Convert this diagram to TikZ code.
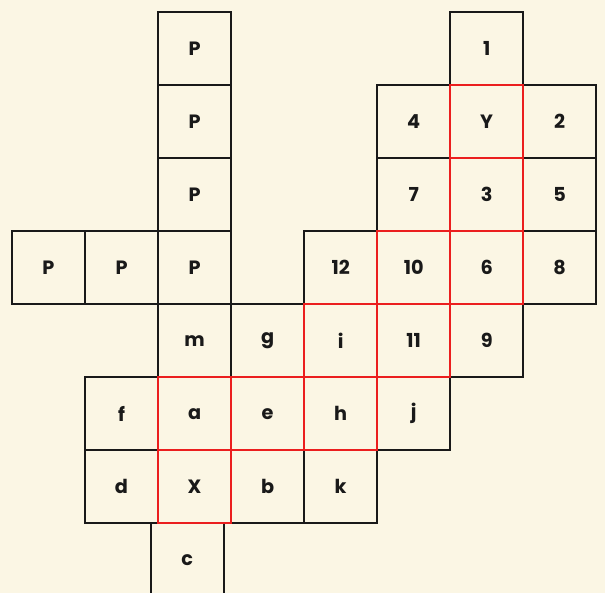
\documentclass[tikz,border=0pt]{standalone}
\usepackage{fontspec}
\setmainfont{Poppins}
\usepackage{tikz}
\definecolor{paperc}{RGB}{251,246,228}
\definecolor{inkc}{RGB}{25,25,25}
\definecolor{pathc}{RGB}{235,30,30}
\tikzset{
  cell/.style={rectangle,draw=inkc,line width=1.7pt,minimum size=2cm,inner sep=0pt,font=\fontsize{15}{17}\selectfont\bfseries,text=inkc},
  route/.style={cell,draw=pathc,line width=1.6pt},
}
\begin{document}
\begin{tikzpicture}[x=2cm,y=2cm]
  % paper and frame
  \fill[paperc] (-0.664,0.664) rectangle (7.62,-7.45);
  \useasboundingbox (-0.664,0.664) rectangle (7.62,-7.45);
  % plain cells
  \foreach \c/\r/\t/\n in {2/0/P/p1, 2/1/P/p2, 2/2/P/p3, 0/3/P/p4, 1/3/P/p5, 2/3/P/p6,
      6/0/1/n1, 5/1/4/n4, 7/1/2/n2, 5/2/7/n7, 7/2/5/n5, 4/3/12/n12, 7/3/8/n8,
      2/4/m/m, 3/4/g/g, 6/4/9/n9, 1/5/f/f, 5/5/j/j, 1/6/d/d, 3/6/b/b, 4/6/k/k}
    \node[cell] (\n) at (\c,-\r) {\t};
  % cell c runs off the sheet
  \node[cell] (c) at (1.9,-7) {c};
  % cells on the red route
  \foreach \c/\r/\t/\n in {6/1/Y/Y, 6/2/3/n3, 5/3/10/n10, 6/3/6/n6, 4/4/i/i,
      5/4/11/n11, 2/5/a/a, 3/5/e/e, 4/5/h/h, 2/6/X/X}
    \node[route] (\n) at (\c,-\r) {\t};
\end{tikzpicture}
\end{document}
